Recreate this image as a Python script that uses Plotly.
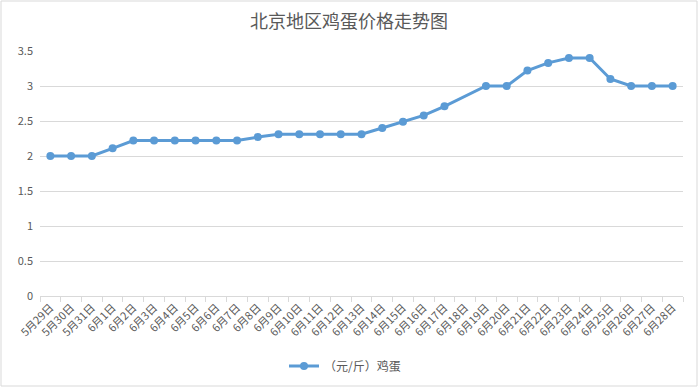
import plotly.graph_objects as go

categories = ["5月29日", "5月30日", "5月31日"] + [f"6月{d}日" for d in range(1, 29)]
prices = [2.0, 2.0, 2.0, 2.11, 2.22, 2.22, 2.22, 2.22, 2.22, 2.22,
          2.27, 2.31, 2.31, 2.31, 2.31, 2.31, 2.4, 2.49, 2.58, 2.71,
          None, 3.0, 3.0, 3.22, 3.33, 3.4, 3.4, 3.1, 3.0, 3.0, 3.0]
series_name = "（元/斤）鸡蛋"
title = "北京地区鸡蛋价格走势图"
y_ticks = [0, 0.5, 1, 1.5, 2, 2.5, 3, 3.5]
y_labels = ["0", "0.5", "1", "1.5", "2", "2.5", "3", "3.5"]

font = "Noto Sans CJK SC, Microsoft YaHei, sans-serif"
fig = go.Figure()
fig.add_trace(go.Scatter(
    x=categories, y=prices, name=series_name, mode="lines+markers",
    connectgaps=True,
    line=dict(color="#5B9BD5", width=3),
    marker=dict(color="#5B9BD5", size=8),
))

W, H = 698, 387
ml, mr, mt, mb = 40, 15, 51, 91
pw, ph = W - ml - mr, H - mt - mb

fig.update_layout(
    width=W, height=H,
    margin=dict(l=ml, r=mr, t=mt, b=mb, autoexpand=False),
    paper_bgcolor="white", plot_bgcolor="white",
    font=dict(family=font, color="#595959", size=11),
    title=dict(text=title, x=0.5, xanchor="center", y=1 - 22 / H, yanchor="middle",
               font=dict(size=18, color="#595959", family=font)),
    showlegend=True,
    legend=dict(orientation="h", x=(284 - ml) / pw, xanchor="left", y=-(366 - (H - mb)) / ph,
                yanchor="middle", font=dict(size=12, color="#595959")),
    xaxis=dict(type="category", range=[-0.5, len(categories) - 0.5],
               tickangle=-45, tickson="boundaries", ticks="outside", ticklen=5,
               tickcolor="#d9d9d9", showline=True, linecolor="#d9d9d9", linewidth=1,
               showgrid=False, automargin=False, tickfont=dict(size=11, color="#595959")),
    yaxis=dict(range=[0, 3.5], tickvals=y_ticks, ticktext=y_labels,
               showgrid=True, gridcolor="#d9d9d9", gridwidth=1,
               zeroline=False, showline=False, ticks="", automargin=False,
               ticklabelstandoff=6,
               tickfont=dict(size=11, color="#595959")),
    shapes=[dict(type="rect", xref="paper", yref="paper",
                 x0=-(ml - 1) / pw, x1=1 + (mr - 1) / pw,
                 y0=-(mb - 1) / ph, y1=1 + (mt - 1) / ph,
                 line=dict(color="#d9d9d9", width=1), layer="below")],
)

fig.write_html("out.html", config={"displayModeBar": False},
               post_script="document.body.style.margin='0';")
